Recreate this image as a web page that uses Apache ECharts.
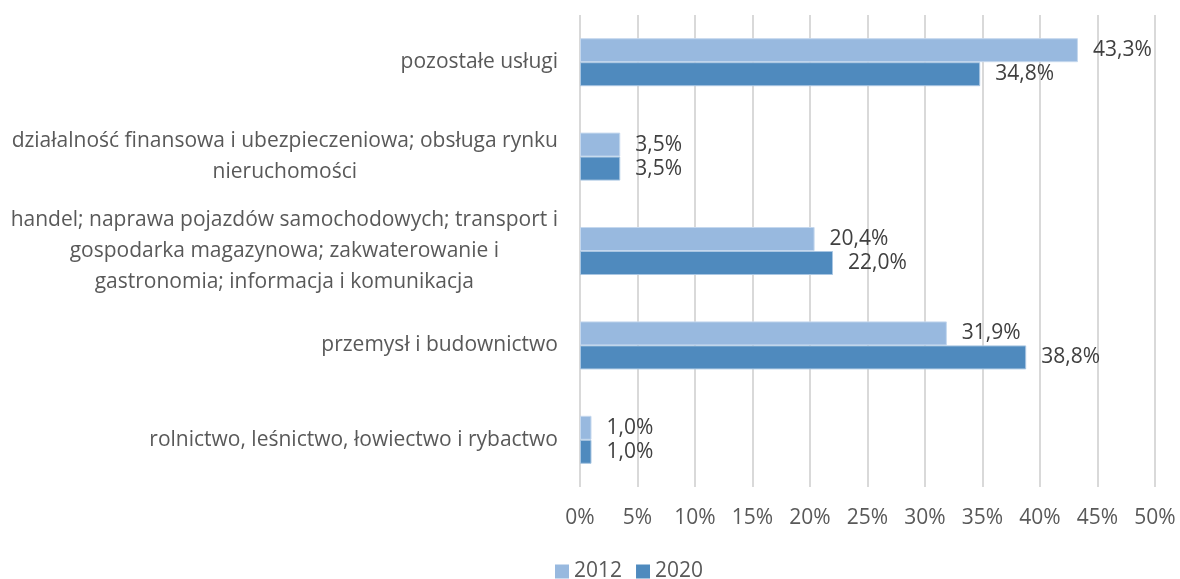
<!DOCTYPE html>
<html>
<head>
<meta charset="utf-8">
<script src="https://cdn.jsdelivr.net/npm/echarts@6/dist/echarts.min.js"></script>
<style>
  html, body { margin: 0; padding: 0; background: #fff; }
  #main { width: 1180px; height: 579px; }
</style>
</head>
<body>
<div id="main"></div>
<script>
// kategorie od dołu do góry
var categories = [
  'rolnictwo, leśnictwo, łowiectwo i rybactwo',
  'przemysł i budownictwo',
  'handel; naprawa pojazdów samochodowych; transport i\ngospodarka magazynowa; zakwaterowanie i\ngastronomia; informacja i komunikacja',
  'działalność finansowa i ubezpieczeniowa; obsługa rynku\nnieruchomości',
  'pozostałe usługi'
];
var values2012 = [1.0, 31.9, 20.4, 3.5, 43.3];
var values2020 = [1.0, 38.8, 22.0, 3.5, 34.8];
var xTicks = [0, 50, 5]; // min, max, krok

var font = 'Open Sans';
var textColor = '#595959';

function pct(v) {
  return v.toFixed(1).replace('.', ',') + '%';
}

var chart = echarts.init(document.getElementById('main'));
var option = {
  animation: false,
  textStyle: { fontFamily: font },
  legend: {
    data: ['2012', '2020'],
    top: 556,
    left: 550,
    itemWidth: 14,
    itemHeight: 14,
    itemGap: 14,
    icon: 'rect',
    itemStyle: { borderWidth: 0 },
    textStyle: { fontSize: 21, color: textColor, fontFamily: font }
  },
  grid: { left: 580, right: 25, top: 15, bottom: 92, containLabel: false },
  xAxis: {
    type: 'value',
    min: xTicks[0],
    max: xTicks[1],
    interval: xTicks[2],
    axisLine: { show: false },
    axisTick: { show: false },
    splitLine: { lineStyle: { color: '#d9d9d9', width: 2 } },
    axisLabel: {
      margin: 21,
      fontSize: 21,
      color: textColor,
      fontFamily: font,
      formatter: function (v) { return v + '%'; }
    }
  },
  yAxis: {
    type: 'category',
    data: categories,
    axisLine: { show: false },
    axisTick: { show: false },
    axisLabel: {
      margin: 22,
      formatter: function (v) {
        return v.split('\n').map(function (s) { return '{c|' + s + '}'; }).join('\n');
      },
      rich: {
        c: { align: 'center', fontSize: 21, lineHeight: 31, color: textColor, fontFamily: font }
      }
    }
  },
  series: [
    {
      name: '2012',
      type: 'bar',
      data: values2012,
      barWidth: 24,
      barGap: '0%',
      itemStyle: { color: '#98b9df', borderColor: '#c5d8ee', borderWidth: 1 },
      label: {
        show: true, position: 'right', distance: 15,
        fontSize: 21, color: '#404040', fontFamily: font,
        formatter: function (p) { return pct(p.value); }
      }
    },
    {
      name: '2020',
      type: 'bar',
      data: values2020,
      barWidth: 24,
      barGap: '0%',
      itemStyle: { color: '#4f8abe', borderColor: '#a9c6e2', borderWidth: 1 },
      label: {
        show: true, position: 'right', distance: 15,
        fontSize: 21, color: '#404040', fontFamily: font,
        formatter: function (p) { return pct(p.value); }
      }
    }
  ]
};
chart.setOption(option);
</script>
</body>
</html>
